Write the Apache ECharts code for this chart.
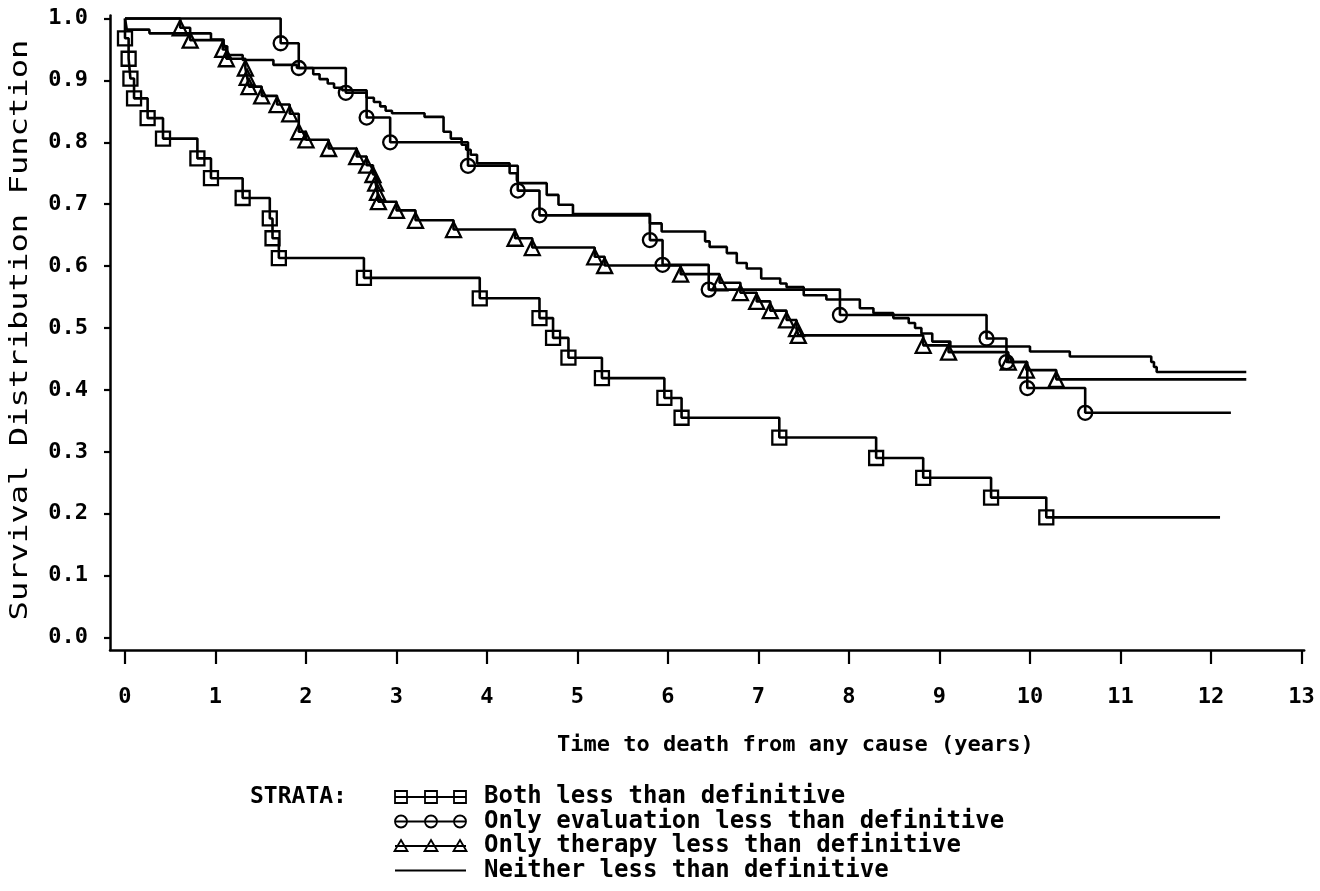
<!DOCTYPE html>
<html><head><meta charset="utf-8">
<script src="https://cdn.jsdelivr.net/npm/echarts@6/dist/echarts.min.js"></script>
<style>html,body{margin:0;padding:0;background:#fff}#c{width:1320px;height:891px}</style>
</head><body><div id="c"></div>
<script>
// ---- tick labels ----
const xTicks = [0,1,2,3,4,5,6,7,8,9,10,11,12,13];
const yTicks = [0.0,0.1,0.2,0.3,0.4,0.5,0.6,0.7,0.8,0.9,1.0];
const xTitle = 'Time to death from any cause (years)';
const yTitle = 'Survival Distribution Function';
const legendTitle = 'STRATA:';
const strataNames = ['Both less than definitive','Only evaluation less than definitive','Only therapy less than definitive','Neither less than definitive'];
const strataSymbols = ['rect','circle','triangle','none'];

// ---- series: event times (years) and survival levels ----
const bothT = [0,0,0.04,0.06,0.10,0.25,0.42,0.80,0.95,1.30,1.60,1.63,1.70,2.64,3.92,4.58,4.73,4.90,5.27,5.96,6.15,7.23,8.30,8.82,9.57,10.18,12.10];
const bothS = [1.0,0.968,0.935,0.903,0.871,0.839,0.806,0.774,0.742,0.710,0.677,0.645,0.613,0.581,0.548,0.516,0.484,0.452,0.419,0.387,0.355,0.323,0.290,0.258,0.226,0.194,0.194];

const evalT = [0,1.72,1.92,2.44,2.67,2.93,3.79,4.34,4.58,5.80,5.94,6.45,7.90,9.52,9.74,9.97,10.61,12.22];
const evalS = [1.0,0.960,0.920,0.880,0.840,0.800,0.762,0.722,0.682,0.642,0.602,0.562,0.521,0.483,0.445,0.403,0.363,0.363];

const therT = [0,0.61,0.72,1.08,1.12,1.33,1.35,1.37,1.51,1.68,1.82,1.92,2.00,2.25,2.56,2.67,2.74,2.77,2.79,2.80,3.00,3.21,3.63,4.31,4.50,5.19,5.30,6.14,6.57,6.80,6.98,7.13,7.31,7.42,7.44,8.82,9.10,9.76,9.96,10.29,12.39];
const therS = [1.0,0.985,0.965,0.950,0.935,0.920,0.905,0.890,0.875,0.861,0.846,0.817,0.804,0.790,0.777,0.763,0.748,0.734,0.719,0.704,0.690,0.674,0.659,0.645,0.630,0.615,0.601,0.587,0.573,0.557,0.543,0.528,0.513,0.499,0.488,0.472,0.461,0.445,0.432,0.417,0.417];

const neitherT = [0,0.02,0.27,0.95,1.09,1.13,1.30,1.64,1.90,2.08,2.15,2.24,2.31,2.40,2.67,2.75,2.82,2.88,2.95,3.31,3.52,3.60,3.72,3.77,3.82,3.89,4.25,4.33,4.35,4.66,4.79,4.95,5.80,5.93,6.41,6.46,6.65,6.76,6.87,7.03,7.24,7.31,7.50,7.75,8.12,8.27,8.49,8.66,8.73,8.80,8.92,9.12,10.00,10.44,11.34,11.37,11.40,12.39];
const neitherS = [1.0,0.982,0.976,0.966,0.955,0.941,0.933,0.925,0.920,0.910,0.902,0.895,0.888,0.884,0.872,0.865,0.858,0.851,0.847,0.841,0.817,0.806,0.796,0.788,0.780,0.766,0.750,0.739,0.734,0.715,0.699,0.684,0.669,0.656,0.640,0.631,0.621,0.605,0.596,0.580,0.572,0.566,0.553,0.546,0.532,0.524,0.516,0.508,0.500,0.491,0.478,0.470,0.462,0.454,0.445,0.437,0.429,0.429];

const FONT = "'DejaVu Sans Mono', 'Liberation Mono', monospace";

function toData(ts, ss) {
  return ts.map((t, i) => {
    const item = { value: [t, ss[i]] };
    if (i === 0 || i === ts.length - 1) item.symbol = 'none';
    return item;
  });
}

function makeSeries(name, ts, ss, sym) {
  return {
    type: 'line', name: name, step: 'end',
    data: toData(ts, ss),
    symbol: sym, symbolSize: sym === 'triangle' ? 15 : 14,
    showAllSymbol: true, clip: false,
    lineStyle: { color: '#000', width: 2.6 },
    itemStyle: { color: 'rgba(0,0,0,0)', borderColor: '#000', borderWidth: 2.3 },
    emphasis: { disabled: true },
    z: 3
  };
}

const chart = echarts.init(document.getElementById('c'), null, { renderer: 'canvas' });

// legend key graphics
const legendEls = [];
legendEls.push({ type: 'text', x: 250, y: 797, style: { text: legendTitle, font: 'bold 23px ' + FONT, fill: '#000', align: 'left', verticalAlign: 'middle' } });
strataNames.forEach((nm, i) => {
  const y = 797 + i * 24.5;
  legendEls.push({ type: 'line', shape: { x1: 395, y1: y, x2: 466, y2: y }, style: { stroke: '#000', lineWidth: 2 } });
  [401, 431, 460].forEach(cx => {
    const s = strataSymbols[i];
    if (s === 'rect') legendEls.push({ type: 'rect', shape: { x: cx - 6, y: y - 6, width: 12, height: 12 }, style: { fill: 'none', stroke: '#000', lineWidth: 1.8 } });
    else if (s === 'circle') legendEls.push({ type: 'circle', shape: { cx: cx, cy: y, r: 6 }, style: { fill: 'none', stroke: '#000', lineWidth: 1.8 } });
    else if (s === 'triangle') legendEls.push({ type: 'polygon', shape: { points: [[cx, y - 6], [cx + 6.5, y + 5], [cx - 6.5, y + 5]] }, style: { fill: 'none', stroke: '#000', lineWidth: 1.8 } });
  });
  legendEls.push({ type: 'text', x: 484, y: y, style: { text: nm, font: 'bold 24px ' + FONT, fill: '#000', align: 'left', verticalAlign: 'middle' } });
});

const option = {
  animation: false,
  backgroundColor: '#fff',
  grid: { left: 110, right: 15.8, top: 15.4, bottom: 241, containLabel: false, outerBoundsMode: 'none' },
  xAxis: {
    type: 'value', min: -0.1657, max: 13.03,
    axisLine: { show: true, onZero: false, lineStyle: { color: '#000', width: 2.5 } },
    axisTick: { show: true, inside: false, length: 14, customValues: xTicks, lineStyle: { color: '#000', width: 2.2 } },
    axisLabel: { show: true, customValues: xTicks, margin: 36, color: '#000', fontFamily: FONT, fontWeight: 'bold', fontSize: 22 },
    splitLine: { show: false }
  },
  yAxis: {
    type: 'value', min: -0.0202, max: 1.005,
    axisLine: { show: true, onZero: false, lineStyle: { color: '#000', width: 2.5 } },
    axisTick: { show: true, inside: false, length: 6, customValues: yTicks, lineStyle: { color: '#000', width: 2.2 } },
    axisLabel: { show: true, customValues: yTicks, margin: 22, color: '#000', fontFamily: FONT, fontWeight: 'bold', fontSize: 22,
      formatter: v => Number(v).toFixed(1) },
    splitLine: { show: false }
  },
  series: [
    makeSeries(strataNames[0], bothT, bothS, strataSymbols[0]),
    makeSeries(strataNames[1], evalT, evalS, strataSymbols[1]),
    makeSeries(strataNames[2], therT, therS, strataSymbols[2]),
    makeSeries(strataNames[3], neitherT, neitherS, strataSymbols[3])
  ],
  graphic: [
    { type: 'text', x: 557, y: 745, style: { text: xTitle, font: 'bold 22px ' + FONT, fill: '#000', align: 'left', verticalAlign: 'middle' } },
    { type: 'text', x: 21, y: 330, rotation: Math.PI / 2, scaleX: 1.34, style: { text: yTitle, font: '24px ' + FONT, fill: '#000', align: 'center', verticalAlign: 'middle' } }
  ].concat(legendEls)
};
chart.setOption(option);
</script>
</body></html>
